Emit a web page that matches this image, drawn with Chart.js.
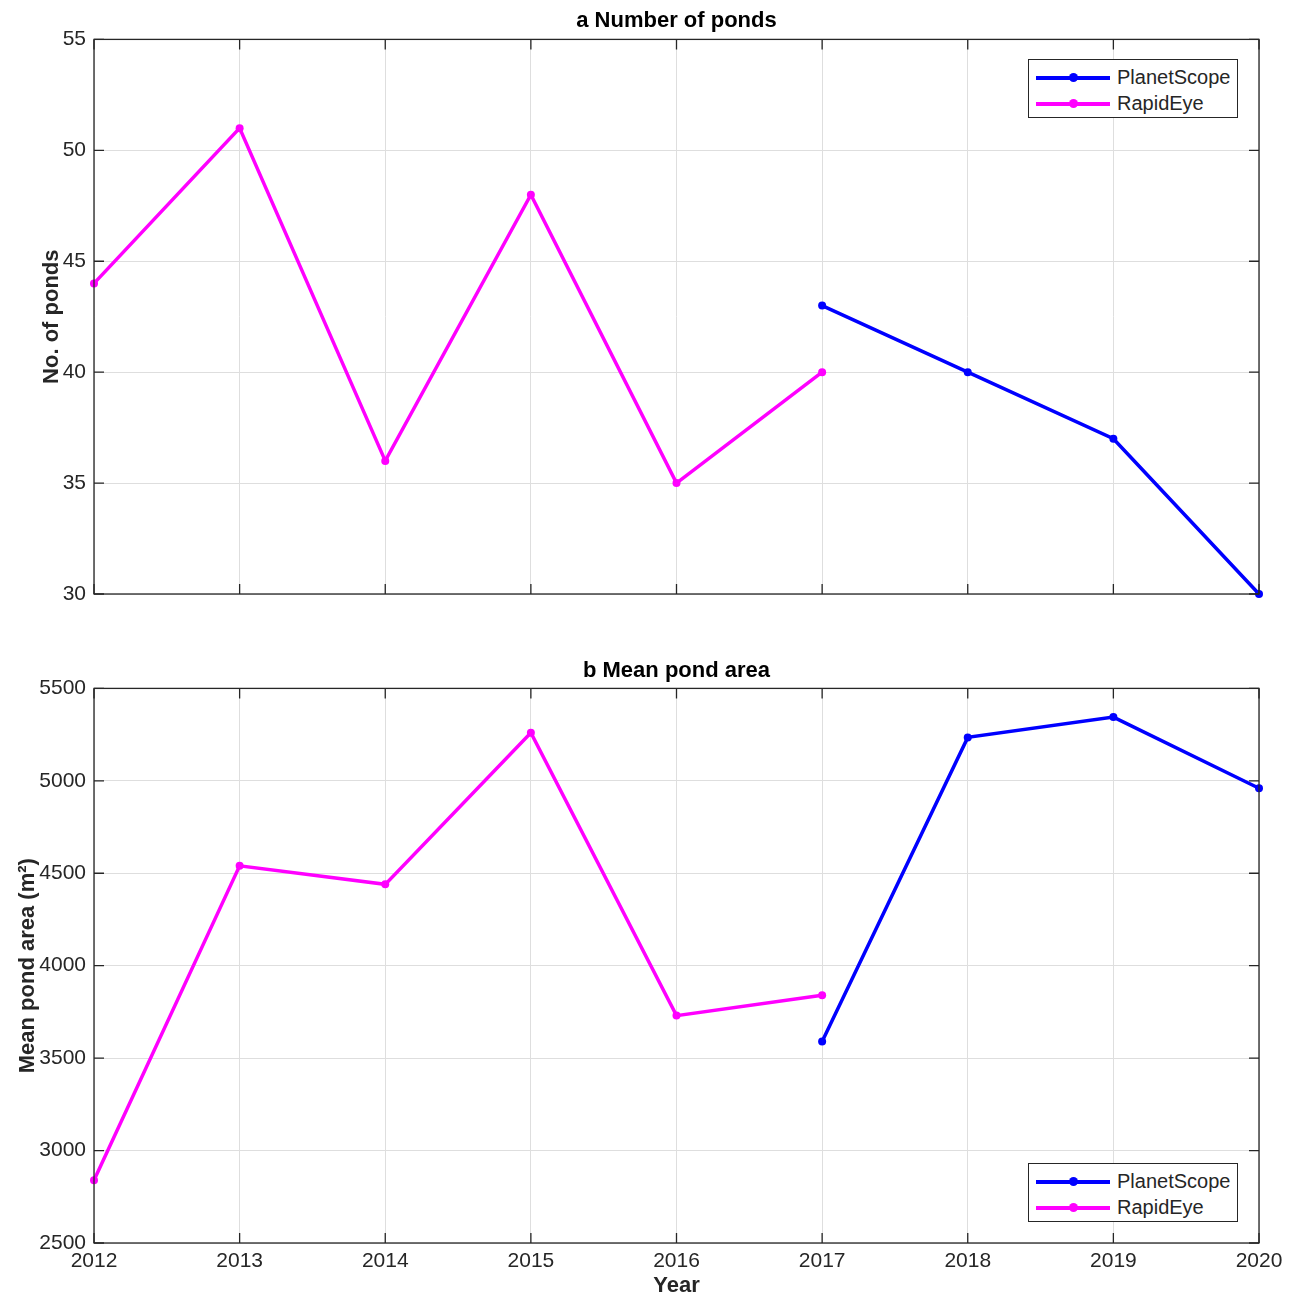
<!DOCTYPE html>
<html>
<head>
<meta charset="utf-8">
<script src="https://cdn.jsdelivr.net/npm/chart.js@4.4.1/dist/chart.umd.min.js"></script>
<style>
  body { margin: 0; background: #fff; }
  #wrap { position: relative; width: 1292px; height: 1297px; }
  canvas { position: absolute; left: 0; }
  .legend {
    position: absolute; left: 1028px; width: 208px; height: 57px;
    border: 1px solid #262626; background: #fff;
    font-family: "Liberation Sans", Arial, sans-serif; font-size: 20px; color: #262626;
  }
  .legend .row { position: absolute; left: 0; height: 26px; width: 100%; }
  .legend .sample { position: absolute; left: 7px; top: 11px; width: 74px; height: 3.5px; }
  .legend .dot { position: absolute; left: 33px; top: -3px; width: 9px; height: 9px; border-radius: 50%; }
  .legend .txt { position: absolute; left: 88px; top: 0px; line-height: 24px; }
</style>
</head>
<body>
<div id="wrap">
  <canvas id="chartA" width="1292" height="620" style="top:0"></canvas>
  <canvas id="chartB" width="1292" height="657" style="top:640px"></canvas>
  <div class="legend" id="legendA" style="top:59px"></div>
  <div class="legend" id="legendB" style="top:1163px"></div>
</div>
<script>
var years = ["2012", "2013", "2014", "2015", "2016", "2017", "2018", "2019", "2020"];

var pondsPlanetScope = [null, null, null, null, null, 43, 40, 37, 30];
var pondsRapidEye = [44, 51, 36, 48, 35, 40, null, null, null];

var areaPlanetScope = [null, null, null, null, null, 3590, 5235, 5345, 4960];
var areaRapidEye = [2840, 4540, 4440, 5260, 3730, 3840, null, null, null];

var blue = "#0000ff";
var magenta = "#ff00ff";
var frameColor = "#262626";
var gridColor = "#dedede";
var fontFamily = "'Liberation Sans', Arial, sans-serif";

// MATLAB-like box with inward ticks on all four sides
var boxPlugin = {
    id: "box",
    afterDraw: function (chart) {
        var ctx = chart.ctx;
        var a = chart.chartArea;
        var xs = chart.scales.x;
        var ys = chart.scales.y;
        ctx.save();
        ctx.strokeStyle = frameColor;
        ctx.lineWidth = 1.3;
        ctx.beginPath();
        for (var i = 0; i < xs.ticks.length; i++) {
            var px = xs.getPixelForTick(i);
            ctx.moveTo(px, a.bottom); ctx.lineTo(px, a.bottom - 10);
            ctx.moveTo(px, a.top); ctx.lineTo(px, a.top + 10);
        }
        for (var j = 0; j < ys.ticks.length; j++) {
            var py = ys.getPixelForTick(j);
            ctx.moveTo(a.left, py); ctx.lineTo(a.left + 10, py);
            ctx.moveTo(a.right, py); ctx.lineTo(a.right - 10, py);
        }
        ctx.stroke();
        ctx.strokeRect(a.left, a.top, a.right - a.left, a.bottom - a.top);
        ctx.restore();
    }
};

function lineSet(label, data, color) {
    return {
        label: label,
        data: data,
        borderColor: color,
        backgroundColor: color,
        borderWidth: 3.5,
        pointRadius: 4,
        pointBorderWidth: 0,
        spanGaps: false,
        clip: false,
        tension: 0
    };
}

function makeChart(id, opts) {
    return new Chart(document.getElementById(id).getContext("2d"), {
        type: "line",
        data: {
            labels: years,
            datasets: [
                lineSet("PlanetScope", opts.planet, blue),
                lineSet("RapidEye", opts.rapid, magenta)
            ]
        },
        options: {
            responsive: false,
            animation: false,
            layout: { padding: { left: 0, right: 33, top: 0, bottom: 0 } },
            plugins: {
                legend: { display: false },
                tooltip: { enabled: false },
                title: {
                    display: true,
                    text: opts.title,
                    fullSize: false,
                    color: "#000",
                    font: { family: fontFamily, size: 22, weight: "bold", lineHeight: 1.2 },
                    padding: opts.titlePad
                }
            },
            scales: {
                x: {
                    type: "category",
                    offset: false,
                    border: { display: false },
                    grid: { color: gridColor, drawTicks: false },
                    ticks: {
                        display: opts.showX,
                        color: frameColor,
                        padding: 6,
                        maxRotation: 0,
                        font: { family: fontFamily, size: 21 }
                    },
                    title: {
                        display: opts.showX,
                        text: "Year",
                        color: frameColor,
                        padding: 0,
                        font: { family: fontFamily, size: 22, weight: "bold", lineHeight: 1 }
                    },
                    afterFit: function (s) { s.height = opts.xHeight; }
                },
                y: {
                    min: opts.min,
                    max: opts.max,
                    border: { display: false },
                    grid: { color: gridColor, drawTicks: false },
                    ticks: {
                        stepSize: opts.step,
                        color: frameColor,
                        padding: 8,
                        font: { family: fontFamily, size: 21 },
                        callback: function (v) { return String(v); }
                    },
                    title: {
                        display: true,
                        text: opts.yTitle,
                        color: frameColor,
                        padding: { top: opts.yTitlePad, bottom: 0 },
                        font: { family: fontFamily, size: 22, weight: "bold", lineHeight: 1.2 }
                    },
                    afterFit: function (s) { s.width = 94; }
                }
            }
        },
        plugins: [boxPlugin]
    });
}

function buildLegend(chart, id) {
    var box = document.getElementById(id);
    chart.data.datasets.forEach(function (ds, i) {
        var row = document.createElement("div");
        row.className = "row";
        row.style.top = (5 + i * 26) + "px";
        var sample = document.createElement("div");
        sample.className = "sample";
        sample.style.background = ds.borderColor;
        var dot = document.createElement("div");
        dot.className = "dot";
        dot.style.background = ds.borderColor;
        sample.appendChild(dot);
        var txt = document.createElement("div");
        txt.className = "txt";
        txt.textContent = ds.label;
        row.appendChild(sample);
        row.appendChild(txt);
        box.appendChild(row);
    });
}

var chartA = makeChart("chartA", {
    title: "a Number of ponds",
    titlePad: { top: 8, bottom: 5 },
    planet: pondsPlanetScope,
    rapid: pondsRapidEye,
    min: 30, max: 55, step: 5,
    yTitle: "No. of ponds",
    yTitlePad: 39,
    showX: false,
    xHeight: 26
});

var chartB = makeChart("chartB", {
    title: "b Mean pond area",
    titlePad: { top: 18, bottom: 4 },
    planet: areaPlanetScope,
    rapid: areaRapidEye,
    min: 2500, max: 5500, step: 500,
    yTitle: "Mean pond area (m\u00b2)",
    yTitlePad: 15,
    showX: true,
    xHeight: 54
});

buildLegend(chartA, "legendA");
buildLegend(chartB, "legendB");
</script>
</body>
</html>
